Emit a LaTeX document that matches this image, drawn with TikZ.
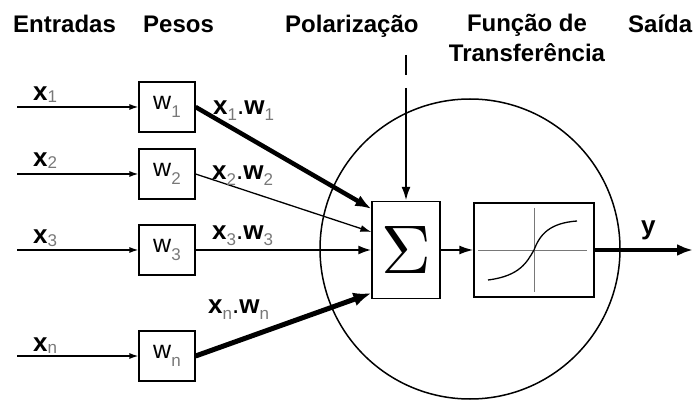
\documentclass[tikz,border=0pt]{standalone}
\usepackage{fontspec}
\setmainfont{Liberation Sans}
\usepackage{xcolor}
\usepackage{graphicx}
\usetikzlibrary{positioning, arrows.meta, calc}
\definecolor{subgray}{RGB}{120,120,120}
\newcommand{\idx}[2][5pt]{\raisebox{-#1}{\fontsize{17}{17}\selectfont\color{subgray}#2}}
\newcommand{\xw}[1]{{\bfseries x}\idx[6pt]{#1}.{\bfseries w}\idx[6pt]{#1}}

\begin{document}
\begin{tikzpicture}[x=1pt, y=-1pt,
  head/.style={anchor=base west, inner sep=0pt, font=\fontsize{24}{30}\selectfont\bfseries},
  wbox/.style={draw, line width=1.2pt, minimum width=56pt, minimum height=50pt, inner sep=0pt, font=\fontsize{25}{25}\selectfont},
  lbl/.style={anchor=base west, inner sep=0pt, font=\fontsize{26}{26}\selectfont},
  inarrow/.style={line width=1.3pt, -{Latex[length=9pt, width=6pt]}}]
\useasboundingbox (0,0) rectangle (693,403);

% titulos
\node[head] (ent) at (13,33) {Entradas};
\node[head] (pes) at (143,33) {Pesos};
\node[head] (pol) at (285,33) {Polarização};
\node[head, anchor=north, align=center] (fun) at (527,14) {Função de\\Transferência};
\node[head] (sai) at (628,33) {Saída};

% neuronio
\node[draw, circle, line width=1.5pt, minimum size=300pt, inner sep=0pt] (cel) at (470,249) {};
\node[draw, line width=1.3pt, minimum width=68pt, minimum height=97pt, inner sep=0pt] (s) at (406,250) {\resizebox{!}{47pt}{$\Sigma$}};
\node[draw, line width=1.3pt, minimum width=120pt, minimum height=94pt] (f) at (534,250) {};
\begin{scope}[shift={(f.center)}]
  \draw[subgray, line width=0.8pt] (0,-42) -- (0,42);
  \draw[subgray, line width=0.8pt] (-56,0) -- (53,0);
  \draw[line width=1.3pt] (-46,30) .. controls (-14,26) and (-7,12) .. (0,0)
    .. controls (6,-16) and (16,-27) .. (43,-29);
\end{scope}

% entradas e pesos
\node[wbox] (w1) at (167,107) {w\idx[8pt]{1}};
\node[wbox] (w2) at (167,174) {w\idx[8pt]{2}};
\node[wbox] (w3) at (167,250) {w\idx[8pt]{3}};
\node[wbox] (wn) at (167,356) {w\idx[8pt]{n}};
\coordinate (e1) at (17,107);
\coordinate (e2) at (17,174);
\coordinate (e3) at (17,250);
\coordinate (en) at (17,356);
\foreach \i in {1,2,3,n} {
  \draw[inarrow] (e\i) -- (w\i.west);
}
\node[lbl] (x1) at (33,101) {{\bfseries x}\idx[2pt]{1}};
\node[lbl] (x2) at (33,167) {{\bfseries x}\idx[2pt]{2}};
\node[lbl] (x3) at (33,244) {{\bfseries x}\idx[2pt]{3}};
\node[lbl] (xn) at (33,351) {{\bfseries x}\idx[2pt]{n}};

% produtos
\draw[line width=4.5pt, -{Latex[length=16pt, width=12pt]}] (w1.east) -- ($(s.north west)+(0,8)$);
\draw[line width=1.3pt, -{Latex[length=11pt, width=7pt]}] (w2.east) -- ($(s.west)+(0,-18)$);
\draw[line width=2.2pt, -{Latex[length=13pt, width=9pt]}] (w3.east) -- (s.west);
\draw[line width=5pt, -{Latex[length=18pt, width=14pt]}] (wn.east) -- ($(s.south west)+(0,-6)$);
\node[lbl] (p1) at (213,115) {\xw{1}};
\node[lbl] (p2) at (212,180) {\xw{2}};
\node[lbl] (p3) at (212,240) {\xw{3}};
\node[lbl] (pn) at (208,313) {\xw{n}};

% polarizacao, transferencia e saida
\coordinate (b) at (406,55);
\draw[line width=2.5pt, dash pattern=on 20pt off 13pt on 200pt, -{Latex[length=14pt, width=9pt]}] (b) -- (s.north);
\draw[line width=1.8pt, -{Latex[length=14pt, width=9pt]}] (s.east) -- (f.west);
\coordinate (out) at (693,250);
\draw[line width=4pt, -{Latex[length=16pt, width=12pt]}] (f.east) -- (out);
\node[lbl] (y) at (641,235) {\bfseries y};
\end{tikzpicture}
\end{document}
